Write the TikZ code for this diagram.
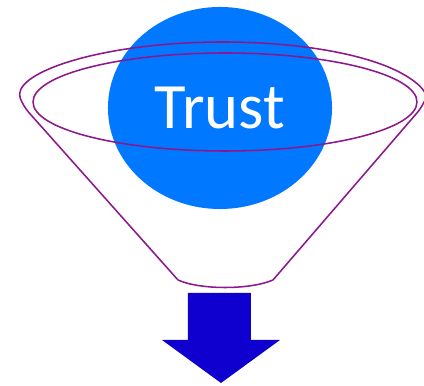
\documentclass[tikz,border=0pt]{standalone}
\usepackage{fontspec}
\newfontfamily\trustfont{Carlito}
\usepackage{xcolor}
\usetikzlibrary{shapes.geometric,calc}
\definecolor{trustblue}{RGB}{0,120,255}
\definecolor{funnelpurple}{RGB}{140,24,140}
\definecolor{arrowblue}{RGB}{16,0,208}

\begin{document}
\begin{tikzpicture}[x=0.025cm, y=0.025cm,
  ball/.style={ellipse, fill=trustblue, minimum width=5.6cm, minimum height=5.05cm, inner sep=0pt, text=white, font=\trustfont\fontsize{46}{50}\selectfont},
  rim/.style={draw=funnelpurple, line width=1.1pt},
  outflow/.style={fill=arrowblue},
]
\useasboundingbox (0,0) rectangle (424,386);

% --- Ball ---
\node[ball] (trust) at (220,278) {Trust};

% --- Funnel ---
\coordinate (rimc) at (223,286);
\coordinate (neckl) at (178,106);
\coordinate (neckr) at (273,106);
\draw[rim, rounded corners=6pt] (neckl) -- ($(rimc)+(186:201 and 58)$)
  arc[start angle=186, end angle=-6, x radius=201, y radius=58] -- (neckr);
\draw[rim] (neckl) .. controls (200,96) and (250,96) .. (neckr);
\draw[rim] (225,284) ellipse[x radius=192, y radius=49];

% --- Arrow ---
\fill[outflow] (188,93) -- (251,93) -- (251,46) -- (280,46) -- (221,3)
  -- (162,46) -- (188,46) -- cycle;

\end{tikzpicture}
\end{document}
